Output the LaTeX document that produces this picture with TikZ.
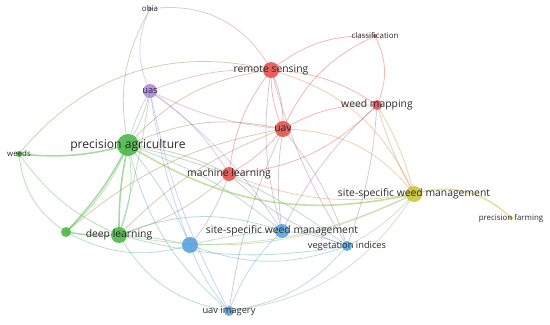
\documentclass[tikz,border=0pt]{standalone}
\usepackage{fontspec}
\setmainfont{Open Sans}
\usetikzlibrary{backgrounds}
\definecolor{vosRed}{HTML}{E8524F}
\definecolor{vosGreen}{HTML}{4DB848}
\definecolor{vosBlue}{HTML}{5BA3DE}
\definecolor{vosPurple}{HTML}{AE8CDF}
\definecolor{vosYellow}{HTML}{C9C635}
\definecolor{inkDark}{HTML}{2B2B2B}
\tikzset{
  dot/.style args={#1/#2}{circle, fill=#1, fill opacity=0.9, inner sep=0pt, minimum size=#2*0.4mm},
  lblL/.style={text=inkDark, inner sep=0pt, font=\fontsize{6.9}{7}\selectfont},
  lblM/.style={text=inkDark, inner sep=0pt, font=\fontsize{5.9}{6}\selectfont},
  lblS/.style={text=inkDark, inner sep=0pt, font=\fontsize{5.3}{5.5}\selectfont},
  lblT/.style={text=inkDark, inner sep=0pt, font=\fontsize{4.5}{5}\selectfont},
  link/.style={draw=#1, line width=0.45pt, draw opacity=0.42},
  strong/.style={draw=#1, line width=0.9pt, draw opacity=0.5},
}

\begin{document}
\begin{tikzpicture}[x=0.02cm, y=-0.02cm]
\useasboundingbox (0,0) rectangle (550,324);
% keywords (circles)
\node[dot=vosPurple/2]  (obia)  at (150,9)   {};
\node[dot=vosPurple/7]  (uas)   at (150,91)  {};
\node[dot=vosGreen/11]  (pa)    at (128,145) {};
\node[dot=vosGreen/3]   (weeds) at (19,154)  {};
\node[dot=vosRed/8]     (rs)    at (271,70)  {};
\node[dot=vosRed/2]     (cls)   at (375,36)  {};
\node[dot=vosRed/5]     (wm)    at (377,105) {};
\node[dot=vosRed/8]     (uav)   at (283,129) {};
\node[dot=vosRed/7]     (ml)    at (229,174) {};
\node[dot=vosYellow/8]  (sswy)  at (414,194) {};
\node[dot=vosYellow/2]  (pf)    at (511,218) {};
\node[dot=vosGreen/5]   (grn)   at (66,232)  {};
\node[dot=vosGreen/8]   (dl)    at (119,235) {};
\node[dot=vosBlue/8]    (blu)   at (190,245) {};
\node[dot=vosBlue/7]    (sswb)  at (282,231) {};
\node[dot=vosBlue/5]    (vi)    at (347,246) {};
\node[dot=vosBlue/5]    (uavi)  at (229,311) {};

% labels
\node[lblT] (obia-t)  at (obia)  {obia};
\node[lblS] (uas-t)   at (uas)   {uas};
\node[lblL] (pa-t)    at (pa)    {precision agriculture};
\node[lblT] (weeds-t) at (weeds) {weeds};
\node[lblM] (rs-t)    at (rs)    {remote sensing};
\node[lblT] (cls-t)   at (cls)   {classification};
\node[lblM] (wm-t)    at (wm)    {weed mapping};
\node[lblM] (uav-t)   at (uav)   {uav};
\node[lblM] (ml-t)    at (ml)    {machine learning};
\node[lblM] (sswy-t)  at (sswy)  {site-specific weed management};
\node[lblT] (pf-t)    at (pf)    {precision farming};
\node[lblM] (dl-t)    at (dl)    {deep learning};
\node[lblM] (sswb-t)  at (sswb)  {site-specific weed management};
\node[lblS] (vi-t)    at (vi)    {vegetation indices};
\node[lblS] (uavi-t)  at (uavi)  {uav imagery};

% links
\begin{scope}[on background layer]
\foreach \a/\b/\c/\d in {
    obia/rs/vosPurple!50!vosRed/35, uas/obia/vosPurple/25, pa/obia/vosPurple!40!vosGreen!70!gray/20,
    uas/rs/vosPurple!50!vosRed/12, uas/pa/vosPurple!50!vosGreen/8, pa/uas/vosPurple!50!vosGreen/8,
    uas/uav/vosPurple!50!vosRed/-10, uas/ml/vosPurple!60!vosRed/12,
    uas/blu/vosPurple!50!vosBlue/-6, uas/dl/vosPurple!50!vosGreen/4, uas/sswb/vosPurple!50!vosBlue/10,
    uas/uavi/vosPurple!50!vosBlue/-8,
    rs/cls/vosRed/20, rs/wm/vosRed/15, rs/uav/vosRed/12, uav/rs/vosRed/12, rs/ml/vosRed/-15,
    weeds/rs/vosGreen!50!vosRed/32, pa/rs/vosGreen!50!vosRed/20, rs/sswy/vosRed!50!vosYellow/25,
    rs/sswb/vosRed!50!vosBlue/-12, rs/vi/vosRed!50!vosBlue/-8,
    uav/cls/vosRed/20, cls/wm/vosRed/25, uav/wm/vosRed/15, ml/wm/vosRed/-20,
    uav/ml/vosRed/10, pa/uav/vosGreen!50!vosRed/18, uav/sswy/vosRed!50!vosYellow/25,
    uav/dl/vosRed!50!vosGreen/-12, uav/sswb/vosRed!50!vosBlue/-8, uav/vi/vosRed!50!vosBlue/10,
    uav/uavi/vosRed!50!vosBlue/-8, grn/uav/vosGreen!50!vosRed/15,
    ml/dl/vosRed!50!vosGreen/12, ml/pa/vosRed!50!vosGreen/-10, ml/blu/vosRed!50!vosBlue/10,
    ml/sswy/vosRed!50!vosYellow/-15, ml/vi/vosRed!50!vosBlue/-12,
    wm/vi/vosRed!50!vosBlue/8, wm/sswb/vosRed!50!vosBlue/-10,
    wm/sswy/vosRed!50!vosYellow/-6, wm/sswy/vosRed!40!vosYellow/8,
    grn/weeds/vosGreen/25, weeds/dl/vosGreen/-15, grn/blu/vosGreen!50!vosBlue/-22,
    grn/pa/vosGreen/-12, pa/blu/vosGreen!50!vosBlue/8, pa/sswb/vosGreen!50!vosBlue/10,
    pa/vi/vosGreen!50!vosBlue/12, pa/uavi/vosGreen!50!vosBlue/-18, pa/dl/vosGreen/15,
    uavi/dl/vosBlue!50!vosGreen/25, dl/sswb/vosGreen!50!vosBlue/20, dl/vi/vosGreen!50!vosBlue/-12,
    dl/sswy/vosGreen!50!vosYellow/-18, dl/blu/vosGreen!50!vosBlue/5,
    blu/uavi/vosBlue/-10, blu/sswb/vosBlue/5, blu/vi/vosBlue/-20, blu/sswy/vosBlue!50!vosYellow/-12,
    sswb/vi/vosBlue/8, sswb/uavi/vosBlue/-12, uavi/vi/vosBlue/-20,
    uavi/sswy/vosBlue!50!vosYellow/-25, vi/sswy/vosBlue!50!vosYellow/-10}{
  \draw[link=\c] (\a.center) to[bend left=\d] (\b.center);
}
\foreach \a/\b/\c/\d in {
    pa/weeds/vosGreen/10, pa/grn/vosGreen/8, pa/dl/vosGreen/-6, dl/grn/vosGreen/6,
    sswy/pa/vosGreen!50!vosYellow/22, sswy/pf/vosYellow/30}{
  \draw[strong=\c] (\a.center) to[bend left=\d] (\b.center);
}
\end{scope}
\end{tikzpicture}
\end{document}
